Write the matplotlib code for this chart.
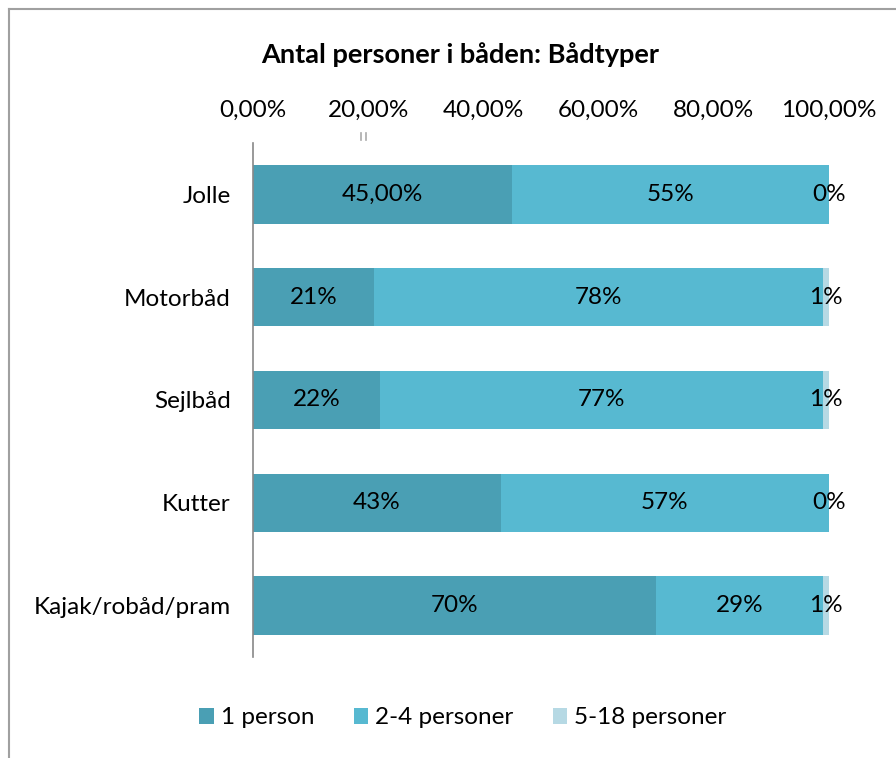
import numpy as np
import matplotlib.pyplot as plt
from matplotlib.patches import Patch
from matplotlib.lines import Line2D

plt.rcParams['font.family'] = ['Lato', 'DejaVu Sans']

categories = ['Jolle', 'Motorbåd', 'Sejlbåd', 'Kutter', 'Kajak/robåd/pram']
one_person = [45.0, 21.0, 22.0, 43.0, 70.0]
two_four = [55.0, 78.0, 77.0, 57.0, 29.0]
five_eighteen = [0.0, 1.0, 1.0, 0.0, 1.0]
labels_one = ['45,00%', '21%', '22%', '43%', '70%']
labels_two = ['55%', '78%', '77%', '57%', '29%']
labels_five = ['0%', '1%', '1%', '0%', '1%']
series_names = ['1 person', '2-4 personer', '5-18 personer']
xticks = [0, 20, 40, 60, 80, 100]
xtick_labels = ['0,00%', '20,00%', '40,00%', '60,00%', '80,00%', '100,00%']

colors = ['#4a9fb4', '#57b9d1', '#b6d9e4']

fig = plt.figure(figsize=(8.96, 7.58), dpi=100)
ax = fig.add_axes([253/896, 1-657/758, 576/896, 514/758])

y = np.arange(len(categories))
left = np.zeros(len(categories))
for vals, labs, col in zip([one_person, two_four, five_eighteen],
                           [labels_one, labels_two, labels_five], colors):
    vals = np.array(vals)
    ax.barh(y, vals, left=left, height=0.57, color=col, edgecolor='none')
    for yi, l, v, t in zip(y, left, vals, labs):
        ax.text(l + v / 2, yi, t, ha='center', va='center', fontsize=17.5, color='black')
    left = left + vals

ax.set_xlim(0, 100)
ax.set_ylim(len(categories) - 0.5, -0.5)
ax.set_yticks(y)
ax.set_yticklabels(categories, fontsize=17.5)
ax.xaxis.tick_top()
ax.set_xticks(xticks)
ax.set_xticklabels(xtick_labels, fontsize=17.5)
ax.tick_params(axis='both', length=0)
ax.tick_params(axis='x', pad=16)
ax.tick_params(axis='y', pad=16)
for s in ['top', 'right', 'bottom']:
    ax.spines[s].set_visible(False)
ax.spines['left'].set_color('#888888')
ax.spines['left'].set_linewidth(1.2)

fig.text(460/896, 1-55/758, 'Antal personer i båden: Bådtyper', ha='center', va='center',
         fontsize=19.5, fontweight='bold')

# stray tick marks near 20%
for xp in [361, 366]:
    fig.add_artist(Line2D([xp/896, xp/896], [1-133/758, 1-140/758], color='#aaaaaa', lw=1.2))

# outer frame
fig.add_artist(Line2D([9/896, 9/896], [0, 1-9/758], color='#a0a0a0', lw=1.5))
fig.add_artist(Line2D([9/896, 1], [1-9/758, 1-9/758], color='#a0a0a0', lw=1.5))

handles = [Patch(facecolor=c, edgecolor='none') for c in colors]
fig.legend(handles, series_names, loc='center', bbox_to_anchor=(463/896, 1-718/758),
           ncol=3, frameon=False, fontsize=17.5, handlelength=0.6, handleheight=0.6,
           handletextpad=0.3, columnspacing=1.6)

fig.savefig('out.png', dpi=100)
